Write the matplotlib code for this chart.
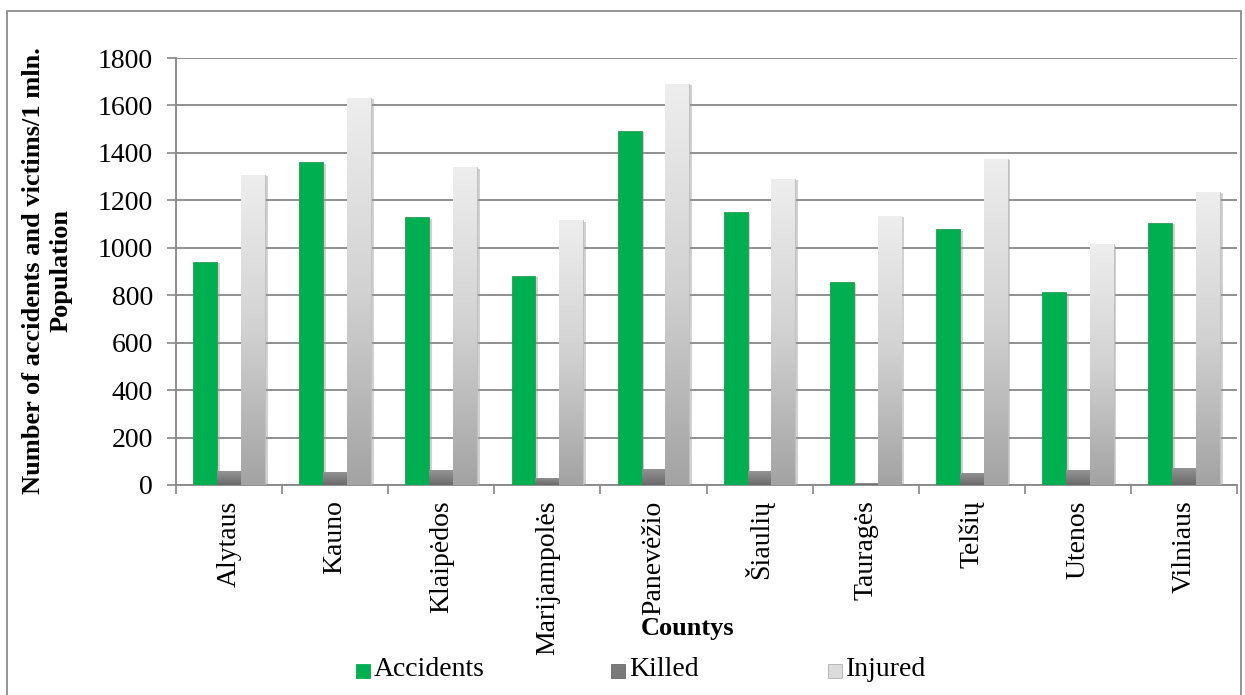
import matplotlib
matplotlib.use('Agg')
import matplotlib.pyplot as plt
import matplotlib.patheffects as pe
from matplotlib.colors import LinearSegmentedColormap
from matplotlib.patches import Rectangle
import numpy as np

counties = ['Alytaus', 'Kauno', 'Klaipėdos', 'Marijampolės', 'Panevėžio',
            'Šiaulių', 'Tauragės', 'Telšių', 'Utenos', 'Vilniaus']
accidents = [941, 1361, 1128, 882, 1493, 1149, 854, 1078, 812, 1106]
killed = [59, 55, 63, 30, 68, 59, 8, 51, 63, 72]
injured = [1307, 1631, 1339, 1116, 1690, 1291, 1136, 1376, 1015, 1235]
series_names = ['Accidents', 'Killed', 'Injured']

plt.rcParams['font.family'] = ['Liberation Serif', 'DejaVu Serif']
W, H = 1245, 695
fig = plt.figure(figsize=(W / 100, H / 100), dpi=100)
ax = fig.add_axes([176 / W, (H - 485) / H, (1237 - 176) / W, (485 - 58) / H])

green = '#00b050'
grid_c = '#878787'
killed_cmap = LinearSegmentedColormap.from_list('k', ['#6a6a6a', '#959595'])
injured_cmap = LinearSegmentedColormap.from_list('i', ['#a3a3a3', '#d2d2d2', '#eeeeee'])

x = np.arange(len(counties))
bw = 0.225
shadow = [pe.SimplePatchShadow(offset=(2, -1), shadow_rgbFace='#9a9a9a', alpha=0.45), pe.Normal()]

b_acc = ax.bar(x - bw, accidents, bw, color=green, edgecolor='#2a9a55', linewidth=0.6, zorder=3)
b_kil = ax.bar(x, killed, bw, color='#808080', edgecolor='#777777', linewidth=0.5, zorder=3)
b_inj = ax.bar(x + bw, injured, bw, color='#d0d0d0', edgecolor='#bdbdbd', linewidth=0.6, zorder=3)
for bars in (b_acc, b_kil, b_inj):
    for b in bars:
        b.set_path_effects(shadow)

# vertical gradient fill for the grey series
grad = np.linspace(0, 1, 256).reshape(-1, 1)
for bars, cm in ((b_kil, killed_cmap), (b_inj, injured_cmap)):
    for b in bars:
        x0, w, h = b.get_x(), b.get_width(), b.get_height()
        im = ax.imshow(grad, extent=[x0, x0 + w, 0, h], origin='lower', aspect='auto',
                       cmap=cm, zorder=4, interpolation='bilinear')
        im.set_clip_path(b)

ax.set_xlim(-0.5, len(counties) - 0.5)
ax.set_ylim(0, 1800)
ax.set_yticks(np.arange(0, 1801, 200))
ax.yaxis.grid(True, color=grid_c, linewidth=1.3, zorder=0)
ax.set_axisbelow(True)

ax.set_xticks(x)
ax.set_xticklabels(counties, rotation=90, va='top', ha='center')
ax.set_xticks(np.arange(-0.5, len(counties), 1), minor=True)
ax.tick_params(axis='x', which='major', length=0, pad=11, labelsize=20)
ax.tick_params(axis='x', which='minor', length=6.5, width=1.2, color=grid_c, direction='out')
ax.tick_params(axis='y', length=6.5, width=1.2, color=grid_c, pad=10, labelsize=20)

for s in ('top', 'right'):
    ax.spines[s].set_visible(False)
for s in ('left', 'bottom'):
    ax.spines[s].set_color(grid_c)
    ax.spines[s].set_linewidth(1.3)

fig.text(47 / W, 1 - 271 / H, 'Number of accidents and victims/1 mln.\nPopulation',
         rotation=90, ha='center', va='center', multialignment='center',
         fontsize=19, fontweight='bold', linespacing=1.25)
fig.text(688 / W, 1 - 629 / H, 'Countys', ha='center', va='center',
         fontsize=19, fontweight='bold')

# legend
leg_colors = [(green, green), ('#7a7a7a', '#6a6a6a'), ('#dcdcdc', '#b0b0b0')]
leg_x = [356, 611, 828]
for name, (fc, ec), lx in zip(series_names, leg_colors, leg_x):
    fig.patches.append(Rectangle((lx / W, 1 - 678 / H), 14 / W, 14 / H,
                                 transform=fig.transFigure, facecolor=fc,
                                 edgecolor=ec, linewidth=0.6))
    fig.text((lx + 18) / W, 1 - 670 / H, name, ha='left', va='center', fontsize=20)

fig.patches.append(Rectangle((7 / W, -0.02), (1241 - 7) / W, 1.02 - 11 / H,
                             transform=fig.transFigure, fill=False,
                             edgecolor='#8c8c8c', linewidth=1.3))

fig.savefig('out.png', dpi=100, facecolor='white')
